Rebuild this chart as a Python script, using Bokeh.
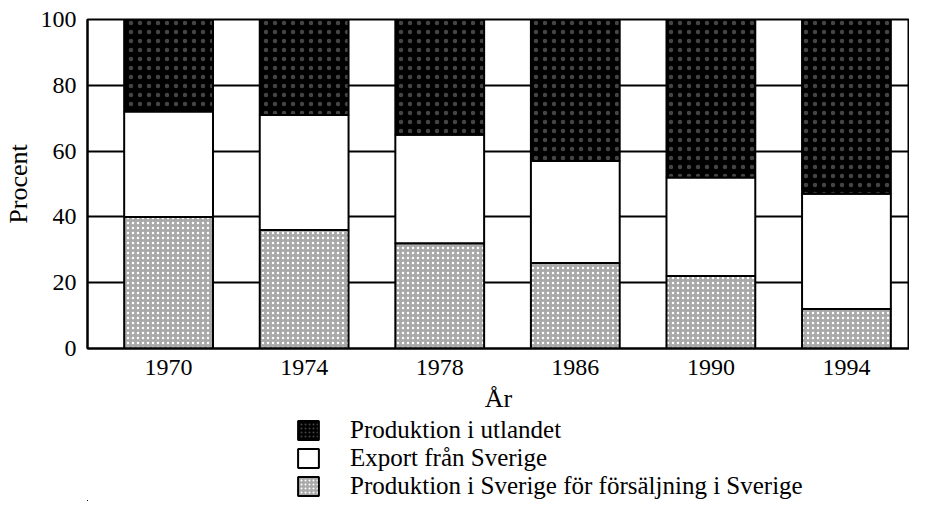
import numpy as np
from bokeh.plotting import figure
from bokeh.layouts import column
from bokeh.models import (ColumnDataSource, Range1d, FixedTicker, Legend, LegendItem)
from bokeh.embed import file_html
from bokeh.resources import INLINE

years = ["1970", "1974", "1978", "1986", "1990", "1994"]
sverige = [40, 36, 32, 26, 22, 12]        # Produktion i Sverige för försäljning i Sverige
export = [32, 35, 33, 31, 30, 35]         # Export från Sverige
utlandet = [28, 29, 35, 43, 48, 53]       # Produktion i utlandet
y_ticks = [0, 20, 40, 60, 80, 100]
labels = ["Produktion i utlandet", "Export från Sverige",
          "Produktion i Sverige för försäljning i Sverige"]

FONT = "Liberation Serif"

fills = ["#a9a9a9", "white", "black"]
hatches = ["dot", " ", "dot"]
hatch_colors = ["white", "white", "#444444"]
hatch_scales = [5, 5, 9]
hatch_weights = [1.2, 1, 0.4]

x = np.arange(len(years))
src = ColumnDataSource(dict(x=x, sverige=sverige, export=export, utlandet=utlandet))

X0, X1 = -0.598, 5.465

p = figure(width=909, height=381, output_backend="svg", toolbar_location=None,
           x_range=Range1d(X0, X1), y_range=Range1d(0, 100),
           min_border_left=80, min_border_right=0, min_border_top=19,
           min_border_bottom=33)

p.outline_line_color = "black"
p.outline_line_width = 2
p.background_fill_color = "white"
p.border_fill_color = "white"

p.xgrid.visible = False
p.ygrid.ticker = FixedTicker(ticks=y_ticks)
p.ygrid.grid_line_color = "black"
p.ygrid.grid_line_width = 2

p.vbar_stack(["sverige", "export", "utlandet"], x="x", width=0.655, source=src,
             fill_color=fills, hatch_pattern=hatches, hatch_color=hatch_colors,
             hatch_scale=hatch_scales, hatch_weight=hatch_weights,
             line_color="black", line_width=2)

p.yaxis.ticker = FixedTicker(ticks=y_ticks)
p.xaxis.ticker = FixedTicker(ticks=list(x))
p.xaxis.major_label_overrides = {int(i): y for i, y in zip(x, years)}
for ax in (p.xaxis, p.yaxis):
    ax.axis_line_color = "black"
    ax.axis_line_width = 2
    ax.major_tick_line_color = None
    ax.minor_tick_line_color = None
    ax.major_label_text_font = FONT
    ax.major_label_text_font_size = "24px"
    ax.major_label_text_color = "black"
    ax.axis_label_text_font = FONT
    ax.axis_label_text_font_size = "26px"
    ax.axis_label_text_font_style = "normal"
    ax.axis_label_text_color = "black"
p.xaxis.major_label_standoff = 5
p.yaxis.major_label_standoff = 5
p.yaxis.axis_label = "Procent"
p.yaxis.axis_label_standoff = 5

# lower panel: x-axis title "År" and the legend
lg = figure(width=909, height=120, output_backend="svg", toolbar_location=None,
            x_axis_type=None, y_axis_type=None,
            x_range=Range1d(100, 101), y_range=Range1d(300, 400),
            min_border_left=80, min_border_right=0, min_border_top=0, min_border_bottom=0)
lg.outline_line_color = None
lg.grid.visible = False
lg.title.text = "År"
lg.title.align = "center"
lg.title.text_font = FONT
lg.title.text_font_size = "26px"
lg.title.text_font_style = "normal"
lg.title.text_color = "black"
lg.title.standoff = 0
lg.title.offset = 6

# legend swatches: same series/styles; the bars lie outside this panel's visible ranges
tops = ["sverige", "export", "utlandet"]
swatches = []
for i in range(3):
    swatches.append(lg.vbar(x="x", top=tops[i], width=0.5, source=src,
                            fill_color=fills[i], hatch_pattern=hatches[i],
                            hatch_color=hatch_colors[i], hatch_scale=4,
                            hatch_weight=hatch_weights[i],
                            line_color="black", line_width=2))

legend = Legend(items=[
    LegendItem(label=labels[0], renderers=[swatches[2]]),
    LegendItem(label=labels[1], renderers=[swatches[1]]),
    LegendItem(label=labels[2], renderers=[swatches[0]]),
], location=(208, 1), orientation="vertical",
    label_text_font=FONT, label_text_font_size="25px", label_text_color="black",
    glyph_width=26, glyph_height=24, label_standoff=29, spacing=-4,
    padding=0, margin=0, border_line_color=None, background_fill_alpha=0,
    label_height=24)
lg.add_layout(legend, "center")

layout = column(p, lg, spacing=0)
open("out.html", "w").write(file_html(layout, INLINE))
